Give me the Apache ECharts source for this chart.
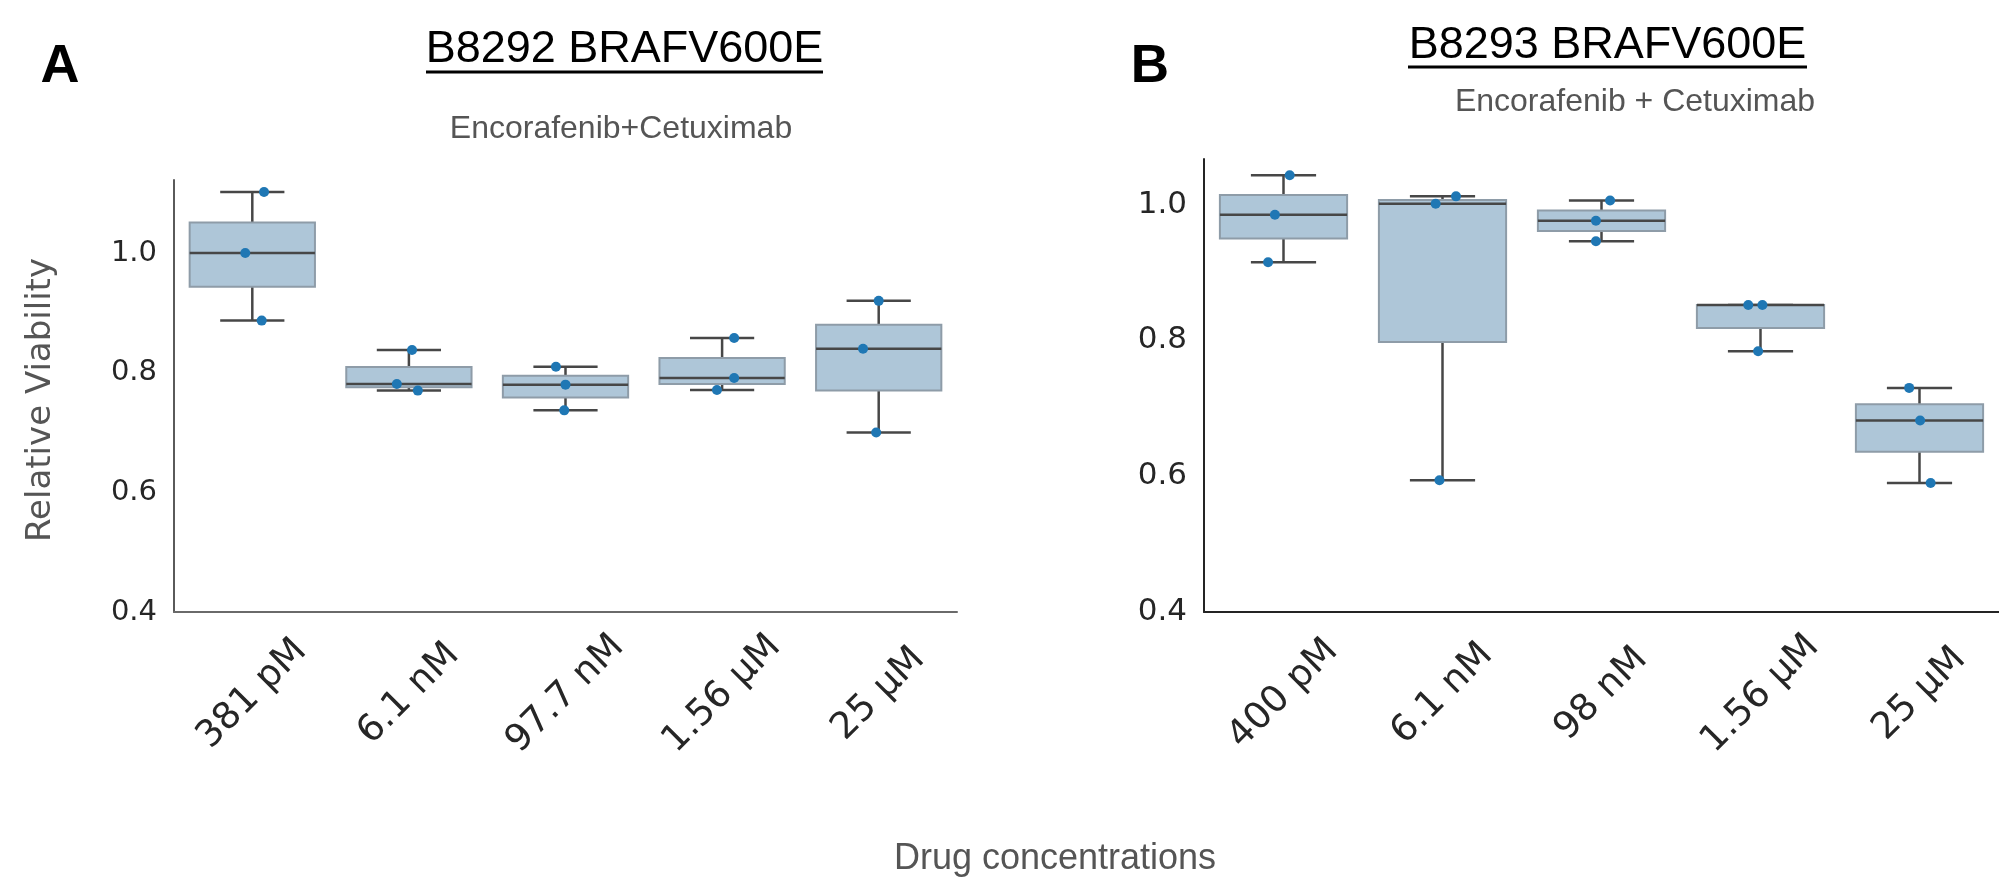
<!DOCTYPE html>
<html>
<head>
<meta charset="utf-8">
<script src="https://cdn.jsdelivr.net/npm/echarts@6/dist/echarts.min.js"></script>
<style>
html, body { margin: 0; padding: 0; background: #fff; }
#container { width: 1999px; height: 878px; }
</style>
</head>
<body>
<div id="container"></div>
<script>
// categories (drug concentrations)
var catsA = ['381 pM', '6.1 nM', '97.7 nM', '1.56 µM', '25 µM'];
var catsB = ['400 pM', '6.1 nM', '98 nM', '1.56 µM', '25 µM'];
// replicate values per concentration
var pointsA = [[1.102, 1.000, 0.887], [0.838, 0.781, 0.770], [0.810, 0.780, 0.737], [0.858, 0.791, 0.771], [0.920, 0.840, 0.700]];
var pointsB = [[1.043, 0.985, 0.915], [1.012, 1.001, 0.594], [1.006, 0.976, 0.946], [0.852, 0.852, 0.784], [0.730, 0.682, 0.590]];
// strip-plot jitter, in category units
var jitterA = [[0.075, -0.045, 0.06], [0.02, -0.077, 0.057], [-0.061, 0, -0.008], [0.077, 0.077, -0.033], [0, -0.1, -0.016]];
var jitterB = [[0.039, -0.054, -0.097], [0.085, -0.043, -0.019], [0.054, -0.035, -0.035], [-0.077, 0.012, -0.015], [-0.065, 0.004, 0.07]];
var yTicks = [0.4, 0.6, 0.8, 1.0];

function quantile(sorted, p) {
    var pos = (sorted.length - 1) * p, lo = Math.floor(pos), hi = Math.ceil(pos);
    return sorted[lo] + (sorted[hi] - sorted[lo]) * (pos - lo);
}
function boxStats(points) {
    return points.map(function (arr, i) {
        var s = arr.slice().sort(function (a, b) { return a - b; });
        var q1 = quantile(s, 0.25), med = quantile(s, 0.5), q3 = quantile(s, 0.75);
        var iqr = q3 - q1;
        var inside = s.filter(function (v) { return v >= q1 - 1.5 * iqr && v <= q3 + 1.5 * iqr; });
        return [i, inside[0], q1, med, q3, inside[inside.length - 1]];
    });
}
function stripData(points, jitter) {
    var out = [];
    points.forEach(function (arr, i) {
        arr.forEach(function (v, j) { out.push([i + jitter[i][j], v]); });
    });
    return out;
}

var lineCol = '#474747';
function renderBox(params, api) {
    var x = api.value(0);
    var lo = api.coord([x, api.value(1)]);
    var q1 = api.coord([x, api.value(2)]);
    var med = api.coord([x, api.value(3)]);
    var q3 = api.coord([x, api.value(4)]);
    var hi = api.coord([x, api.value(5)]);
    var band = api.size([1, 0])[0];
    var half = band * 0.4, cap = band * 0.205;
    var cx = med[0];
    var ls = { stroke: lineCol, lineWidth: 2.5 };
    return {
        type: 'group',
        children: [
            { type: 'line', shape: { x1: cx, y1: lo[1], x2: cx, y2: q1[1] }, style: ls },
            { type: 'line', shape: { x1: cx, y1: q3[1], x2: cx, y2: hi[1] }, style: ls },
            { type: 'line', shape: { x1: cx - cap, y1: lo[1], x2: cx + cap, y2: lo[1] }, style: ls },
            { type: 'line', shape: { x1: cx - cap, y1: hi[1], x2: cx + cap, y2: hi[1] }, style: ls },
            { type: 'rect', shape: { x: cx - half, y: q3[1], width: half * 2, height: q1[1] - q3[1] },
              style: { fill: '#aec6d8', stroke: '#8e9ca8', lineWidth: 2 } },
            { type: 'line', shape: { x1: cx - half, y1: med[1], x2: cx + half, y2: med[1] }, style: ls }
        ]
    };
}

function catAxis(grid, cats, col) {
    return {
        type: 'category', gridIndex: grid, data: cats, boundaryGap: true,
        axisLine: { show: true, onZero: false, lineStyle: { color: col, width: 2 } },
        axisTick: { show: false },
        axisLabel: {
            rotate: 45, align: 'center', verticalAlign: 'middle', margin: 82,
            fontFamily: 'DejaVu Sans', fontSize: 37, color: '#262626', interval: 0
        }
    };
}
function valAxis(grid) {
    return { type: 'value', gridIndex: grid, min: -0.5, max: 4.5, show: false };
}
function yAxis(grid, max, col, size) {
    return {
        type: 'value', gridIndex: grid, min: 0.4, max: max, interval: 0.2,
        splitLine: { show: false },
        axisTick: { show: false },
        axisLine: { show: true, onZero: false, lineStyle: { color: col, width: 2 } },
        axisLabel: {
            showMaxLabel: false, margin: 17, fontFamily: 'DejaVu Sans', fontSize: size, color: '#262626',
            formatter: function (v) { return v.toFixed(1); }
        }
    };
}

var dom = document.getElementById('container');
var myChart = echarts.init(dom);

var option = {
    backgroundColor: '#fff',
    animation: false,
    grid: [
        { left: 174, top: 180, width: 783, height: 432 },
        { left: 1204, top: 159, width: 823, height: 453 }
    ],
    xAxis: [
        catAxis(0, catsA, '#6a6a6a'),
        catAxis(1, catsB, '#242424'),
        valAxis(0),
        valAxis(1)
    ],
    yAxis: [
        yAxis(0, 1.122, '#5a5a5a', 29),
        yAxis(1, 1.067, '#242424', 31)
    ],
    series: [
        { type: 'custom', xAxisIndex: 0, yAxisIndex: 0, renderItem: renderBox, data: boxStats(pointsA), z: 2 },
        { type: 'custom', xAxisIndex: 1, yAxisIndex: 1, renderItem: renderBox, data: boxStats(pointsB), z: 2 },
        { type: 'scatter', xAxisIndex: 2, yAxisIndex: 0, data: stripData(pointsA, jitterA), symbolSize: 10,
          itemStyle: { color: '#1f77b4', opacity: 1 }, z: 5 },
        { type: 'scatter', xAxisIndex: 3, yAxisIndex: 1, data: stripData(pointsB, jitterB), symbolSize: 10,
          itemStyle: { color: '#1f77b4', opacity: 1 }, z: 5 }
    ],
    graphic: [
        { type: 'text', x: 60, y: 67, style: { text: 'A', fontFamily: 'Liberation Sans', fontWeight: 'bold', fontSize: 54, fill: '#000', align: 'center', verticalAlign: 'middle' } },
        { type: 'text', x: 1150, y: 67, style: { text: 'B', fontFamily: 'Liberation Sans', fontWeight: 'bold', fontSize: 53, fill: '#000', align: 'center', verticalAlign: 'middle' } },
        { type: 'text', x: 624.5, y: 50, style: { text: 'B8292 BRAFV600E', fontFamily: 'Liberation Sans', fontSize: 45, fill: '#000', align: 'center', verticalAlign: 'middle' } },
        { type: 'line', shape: { x1: 426, y1: 72, x2: 823, y2: 72 }, style: { stroke: '#000', lineWidth: 3 } },
        { type: 'text', x: 1607.5, y: 46, style: { text: 'B8293 BRAFV600E', fontFamily: 'Liberation Sans', fontSize: 45, fill: '#000', align: 'center', verticalAlign: 'middle' } },
        { type: 'line', shape: { x1: 1408, y1: 67, x2: 1807, y2: 67 }, style: { stroke: '#000', lineWidth: 3 } },
        { type: 'text', x: 621, y: 129, style: { text: 'Encorafenib+Cetuximab', fontFamily: 'Liberation Sans', fontSize: 32, fill: '#555', align: 'center', verticalAlign: 'middle' } },
        { type: 'text', x: 1635, y: 102, style: { text: 'Encorafenib + Cetuximab', fontFamily: 'Liberation Sans', fontSize: 32, fill: '#555', align: 'center', verticalAlign: 'middle' } },
        { type: 'text', x: 41, y: 400, rotation: Math.PI / 2, style: { text: 'Relative Viability', fontFamily: 'DejaVu Sans', fontSize: 34, fill: '#555', align: 'center', verticalAlign: 'middle' } },
        { type: 'text', x: 1055, y: 859, style: { text: 'Drug concentrations', fontFamily: 'Liberation Sans', fontSize: 36, fill: '#555', align: 'center', verticalAlign: 'middle' } }
    ]
};

if (option && typeof option === 'object') {
    myChart.setOption(option, true);
}
</script>
</body>
</html>
